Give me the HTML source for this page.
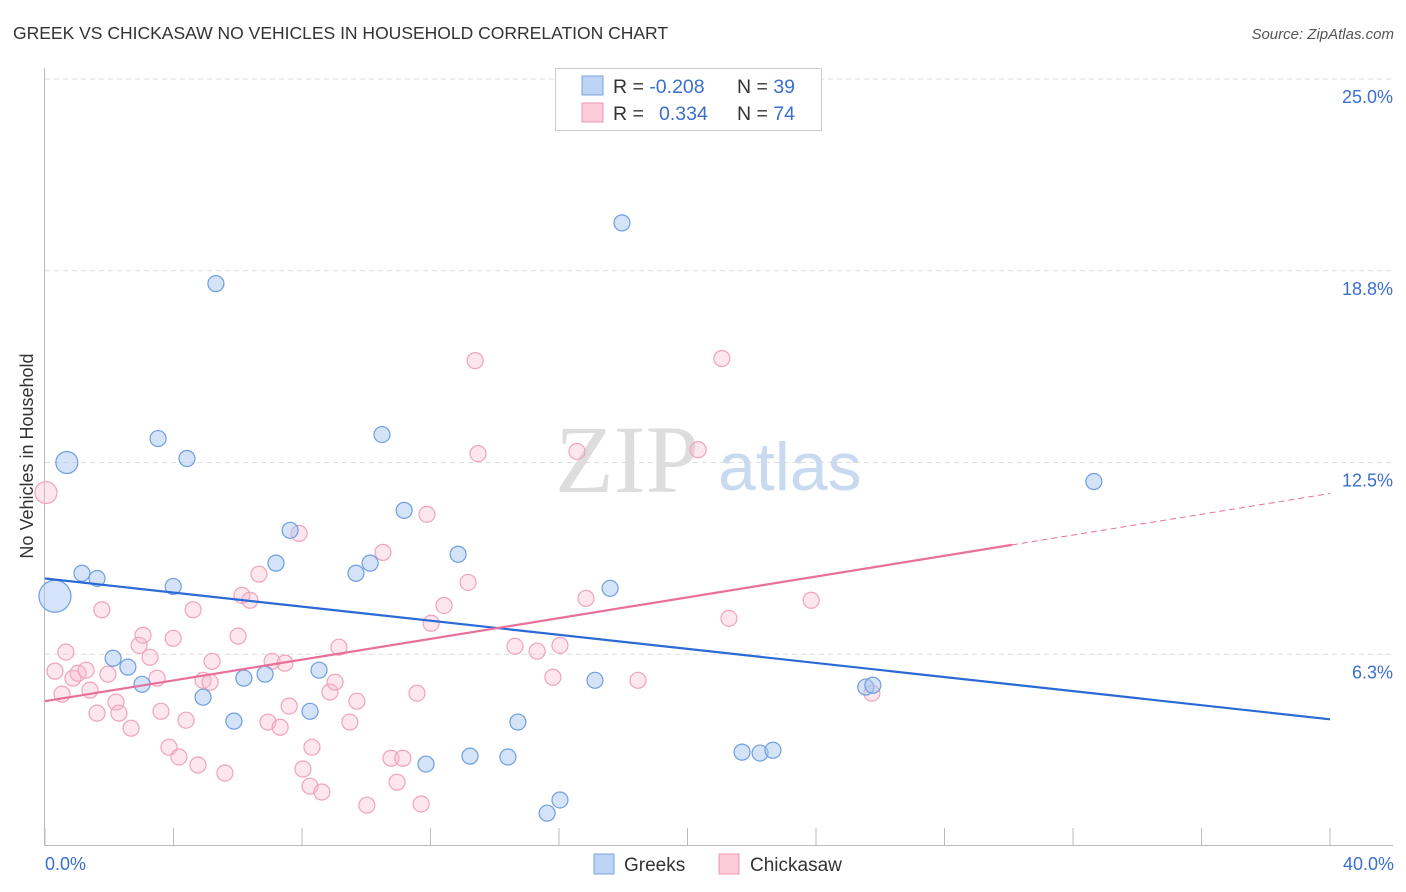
<!DOCTYPE html>
<html><head><meta charset="utf-8"><style>
body{margin:0;background:#fff;width:1406px;height:892px;overflow:hidden;font-family:"Liberation Sans",sans-serif}
svg{position:absolute;left:0;top:0}
</style></head><body>
<svg id="chart" width="1406" height="892">
<text x="13" y="39" font-size="17.5" fill="#333">GREEK VS CHICKASAW NO VEHICLES IN HOUSEHOLD CORRELATION CHART</text>
<text x="1394" y="39" font-size="15" fill="#555" font-style="italic" text-anchor="end">Source: ZipAtlas.com</text>
<text transform="translate(33,456) rotate(-90)" font-size="18" fill="#333" text-anchor="middle">No Vehicles in Household</text>
<text x="555" y="492" font-size="96" fill="#ddd" font-family="Liberation Serif,serif">ZIP</text>
<text x="718" y="490" font-size="68" fill="#c9d9ef">atlas</text>
<g id="grid"></g><g id="axes"></g><g id="marks"></g>
<g>
<rect x="555.5" y="68.5" width="266" height="62" fill="#fff" stroke="#ccc"/>
<rect x="582" y="76" width="21" height="19" fill="#bcd4f5" stroke="#7aa3e0"/>
<rect x="582" y="103" width="21" height="19" fill="#fbcbd8" stroke="#ef95b0"/>
<text x="613" y="93" font-size="19.5" fill="#333">R = <tspan fill="#3a6fd0">-0.208</tspan></text>
<text x="737" y="93" font-size="19.5" fill="#333">N = <tspan fill="#3a6fd0">39</tspan></text>
<text x="613" y="120" font-size="19.5" fill="#333">R = <tspan x="659" fill="#3a6fd0">0.334</tspan></text>
<text x="737" y="120" font-size="19.5" fill="#333">N = <tspan fill="#3a6fd0">74</tspan></text>
</g>
<g>
<rect x="594" y="854" width="20" height="20" fill="#bcd4f5" stroke="#7aa3e0"/>
<text x="624" y="871" font-size="19" fill="#333">Greeks</text>
<rect x="719" y="854" width="20" height="20" fill="#fbcbd8" stroke="#ef95b0"/>
<text x="750" y="871" font-size="19" fill="#333">Chickasaw</text>
</g>
</svg>
<script>
const yTicks=[6.3,12.5,18.8,25.0];
const yTickVals=[6.25,12.5,18.75,25];
const xTickLabels=["0.0%","40.0%"];
const greeksX=[0.68,0.31,1.15,1.62,2.12,2.58,3.02,3.52,3.99,4.42,4.92,5.32,5.88,6.19,6.85,7.19,7.63,8.25,8.53,9.68,10.12,10.49,11.18,11.86,12.86,13.23,14.41,14.72,15.63,16.03,17.12,17.59,17.96,21.70,22.26,22.66,25.55,25.77,32.65];
const greeksY=[12.5,8.14,8.89,8.72,6.12,5.83,5.27,13.28,8.46,12.63,4.85,18.33,4.07,5.47,5.60,9.22,10.29,4.39,5.73,8.89,9.22,13.41,10.94,2.67,9.51,2.93,2.90,4.04,1.07,1.50,5.40,8.40,20.31,3.06,3.03,3.12,5.18,5.24,11.88];
const greeksR=[11,16,8,8,8,8,8,8,8,8,8,8,8,8,8,8,8,8,8,8,8,8,8,8,8,8,8,8,8,8,8,8,8,8,8,8,8,8,8];
const chickX=[0.03,0.31,0.53,0.65,0.87,1.03,1.28,1.40,1.62,1.77,1.96,2.21,2.30,2.68,2.93,3.05,3.27,3.49,3.61,3.86,3.99,4.17,4.39,4.61,4.76,4.92,5.14,5.20,5.60,6.01,6.13,6.38,6.66,6.94,7.07,7.32,7.47,7.60,7.91,8.03,8.25,8.31,8.62,8.87,9.03,9.15,9.49,9.71,10.02,10.52,10.77,10.96,11.14,11.58,11.71,11.89,12.02,12.42,13.17,13.39,13.48,14.63,15.32,15.81,16.03,16.56,16.84,18.46,20.33,21.07,21.29,23.85,25.74];
const chickY=[11.52,5.70,4.95,6.32,5.47,5.63,5.73,5.08,4.33,7.70,5.60,4.69,4.33,3.84,6.54,6.87,6.15,5.47,4.39,3.22,6.77,2.90,4.10,7.70,2.64,5.40,5.34,6.02,2.38,6.84,8.17,8.01,8.86,4.04,6.02,3.87,5.96,4.56,10.19,2.51,1.95,3.22,1.76,5.02,5.34,6.48,4.04,4.72,1.33,9.57,2.86,2.08,2.86,4.98,1.37,10.81,7.26,7.84,8.59,15.82,12.79,6.51,6.35,5.50,6.54,12.86,8.07,5.40,12.92,15.89,7.42,8.01,4.98];
const greeksTrend=[8.72,4.13];
const chickTrend=[4.72,11.49];
const chickSolidEnd=30.1;
const NS="http://www.w3.org/2000/svg";
const X0=45,X1=1330,Y0=846,Y25=79;
function sx(p){return X0+p/40*(X1-X0);}
function sy(v){return Y0-v/25*(Y0-Y25);}
function mk(tag,attrs,parent){const e=document.createElementNS(NS,tag);for(const k in attrs)e.setAttribute(k,attrs[k]);document.getElementById(parent).appendChild(e);return e;}
yTickVals.forEach((v,i)=>{
 const g=mk('line',{x1:45,x2:1393,y1:sy(v),y2:sy(v),stroke:'#ddd','stroke-dasharray':'5,4'},'grid');
 
 
 const t=mk('text',{x:1393,y:sy(v)+24,'font-size':18,fill:'#3a6fd0','text-anchor':'end'},'axes');
 t.textContent=yTicks[i].toFixed(1)+'%';
 
 
});
const ya=mk('line',{x1:44.5,x2:44.5,y1:68,y2:846,stroke:'#bbb'},'axes');


const xa=mk('line',{x1:45,x2:1393,y1:845.5,y2:845.5,stroke:'#bbb'},'axes');


for(let i=0;i<=10;i++){
 const tk=mk('line',{x1:sx(i*4),x2:sx(i*4),y1:828,y2:846,stroke:'#bbb'},'axes');
 
 
}
[[0,'start',45],[40,'end',1394]].forEach((a,i)=>{
 const t=mk('text',{x:a[2],y:870,'font-size':18,fill:'#3a6fd0','text-anchor':a[1]},'axes');
 t.textContent=xTickLabels[i];
 
 
});
chickX.forEach((p,i)=>{
 const c=mk('circle',{cx:sx(p),cy:sy(chickY[i]),r:i===0?11:8,fill:'rgba(248,184,202,0.35)',stroke:'#f0a3bb','stroke-width':1.2},'marks');
 
 
});
greeksX.forEach((p,i)=>{
 const c=mk('circle',{cx:sx(p),cy:sy(greeksY[i]),r:greeksR[i],fill:'rgba(170,200,240,0.5)',stroke:'#6f9ee0','stroke-width':1.2},'marks');
 
 
});
const bl=mk('line',{x1:sx(0),y1:sy(greeksTrend[0]),x2:sx(40),y2:sy(greeksTrend[1]),stroke:'#2a6ad6','stroke-width':2.2},'marks');


const pm=chickTrend[0]+(chickTrend[1]-chickTrend[0])*chickSolidEnd/40;
const pl=mk('line',{x1:sx(0),y1:sy(chickTrend[0]),x2:sx(chickSolidEnd),y2:sy(pm),stroke:'#e8709a','stroke-width':2.2},'marks');


const pd=mk('line',{x1:sx(chickSolidEnd),y1:sy(pm),x2:sx(40),y2:sy(chickTrend[1]),stroke:'#e8709a','stroke-width':1,'stroke-dasharray':'6,4'},'marks');


</script>
</body></html>
